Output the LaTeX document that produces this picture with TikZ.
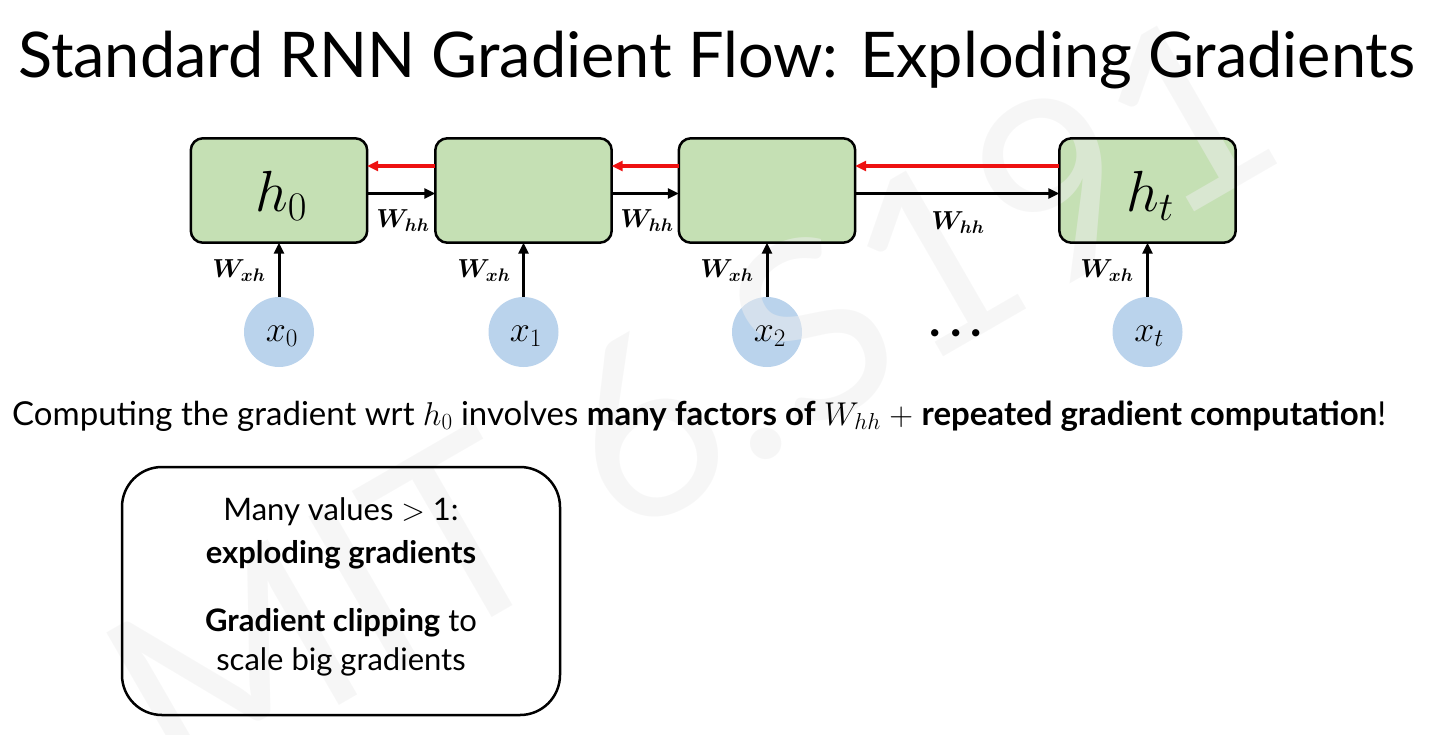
\RequirePackage{fix-cm}
\documentclass[tikz,border=0pt]{standalone}
\usepackage{fontspec}
\setmainfont{Lato}
\usepackage{bm}
\usetikzlibrary{arrows.meta}
\definecolor{cellgreen}{HTML}{C5E0B4}
\definecolor{inblue}{HTML}{BAD3EC}
\definecolor{gradred}{HTML}{EE1111}
\definecolor{wmark}{HTML}{EEEEEE}
\begin{document}
\begin{tikzpicture}[x=1pt,y=-1pt,
  cell/.style={fill=cellgreen, rounded corners=12pt,
    minimum width=176pt, minimum height=104pt, inner sep=0pt},
  cellborder/.style={draw=black, line width=2.5pt, rounded corners=12pt},
  cellname/.style={inner sep=0pt, font=\fontsize{58}{58}\selectfont},
  inp/.style={circle, fill=inblue, minimum size=70pt, inner sep=0pt},
  inpname/.style={inner sep=0pt, font=\fontsize{36}{36}\selectfont},
  fwd/.style={-{Triangle[length=11pt,width=10pt]}, line width=3pt, black},
  bwd/.style={-{Triangle[length=11pt,width=10pt]}, line width=3.2pt, gradred},
  wlab/.style={font=\fontsize{26}{26}\selectfont, inner sep=0pt},
  boxtext/.style={anchor=base, inner sep=0pt, font=\fontsize{31}{31}\selectfont}
]
\useasboundingbox (0,0) rectangle (1437,734);
% cell fills
\node[cell] (h0) at (279,190.5) {};
\node[cell] (h1) at (523.5,190.5) {};
\node[cell] (h2) at (767,190.5) {};
\node[cell] (ht) at (1147.5,190.5) {};
% input circles
\node[inp] (x0) at (279,332) {};
\node[inp] (x1) at (523.5,332) {};
\node[inp] (x2) at (767,332) {};
\node[inp] (xt) at (1147.5,332) {};
% watermark
\node[rotate=30, text=wmark, text opacity=0.5, inner sep=0pt, font=\fontsize{250}{250}\selectfont] (wm) at (690,400) {MIT 6.S191};
% cell borders
\path[cellborder] (h0.south west) rectangle (h0.north east);
\path[cellborder] (h1.south west) rectangle (h1.north east);
\path[cellborder] (h2.south west) rectangle (h2.north east);
\path[cellborder] (ht.south west) rectangle (ht.north east);
% names
\node[cellname] (h0n) at (281,196) {$h_0$};
\node[cellname] (htn) at (1150,196) {$h_t$};
\node[inpname] (x0n) at (282,336) {$x_0$};
\node[inpname] (x1n) at (526,336) {$x_1$};
\node[inpname] (x2n) at (770,336) {$x_2$};
\node[inpname] (xtn) at (1149,336) {$x_t$};
% title
\node[anchor=base west, inner sep=0pt, font=\fontsize{63}{63}\selectfont] (title) at (18,77)
  {Standard RNN Gradient Flow: Exploding Gradients};
% forward arrows
\draw[fwd] ([yshift=-3pt]h0.east) -- ([yshift=-3pt]h1.west);
\draw[fwd] ([yshift=-3pt]h1.east) -- ([yshift=-3pt]h2.west);
\draw[fwd] ([yshift=-3pt]h2.east) -- ([yshift=-3pt]ht.west);
% backward (gradient) arrows
\draw[bwd] ([yshift=24.5pt]h1.west) -- ([yshift=24.5pt]h0.east);
\draw[bwd] ([yshift=24.5pt]h2.west) -- ([yshift=24.5pt]h1.east);
\draw[bwd] ([yshift=24.5pt]ht.west) -- ([yshift=24.5pt]h2.east);
% input arrows
\draw[fwd] (x0.north) -- (h0.south);
\draw[fwd] (x1.north) -- (h1.south);
\draw[fwd] (x2.north) -- (h2.south);
\draw[fwd] (xt.north) -- (ht.south);
% labels
\node[wlab] (lhh0) at (403,221) {$\bm{W_{hh}}$};
\node[wlab] (lhh1) at (647,221) {$\bm{W_{hh}}$};
\node[wlab] (lhh2) at (958,223) {$\bm{W_{hh}}$};
\node[wlab] (lxh0) at (239,271) {$\bm{W_{xh}}$};
\node[wlab] (lxh1) at (484,271) {$\bm{W_{xh}}$};
\node[wlab] (lxh2) at (727,271) {$\bm{W_{xh}}$};
\node[wlab] (lxh3) at (1107,271) {$\bm{W_{xh}}$};
% dots
\node[inner sep=0pt, font=\fontsize{48}{48}\bfseries] (dots) at (956,333) {.\hspace{9pt}.\hspace{9pt}.};
% sentence
\node[anchor=base west, inner sep=0pt, font=\fontsize{33}{33}\selectfont] (sent) at (12,425)
  {Computing the gradient wrt $h_0$ involves \textbf{many factors of} $W_{hh}$ $+$ \textbf{repeated gradient computation}!};
% note box
\node[draw=black, line width=2.5pt, rounded corners=40pt, minimum width=438pt, minimum height=248pt, inner sep=0pt] (note) at (341,591) {};
\node[boxtext] (n1) at (341,520) {Many values $>$ 1:};
\node[boxtext] (n2) at (341,563) {\textbf{exploding gradients}};
\node[boxtext] (n3) at (341,631) {\textbf{Gradient clipping} to};
\node[boxtext] (n4) at (341,670) {scale big gradients};
\end{tikzpicture}
\end{document}
